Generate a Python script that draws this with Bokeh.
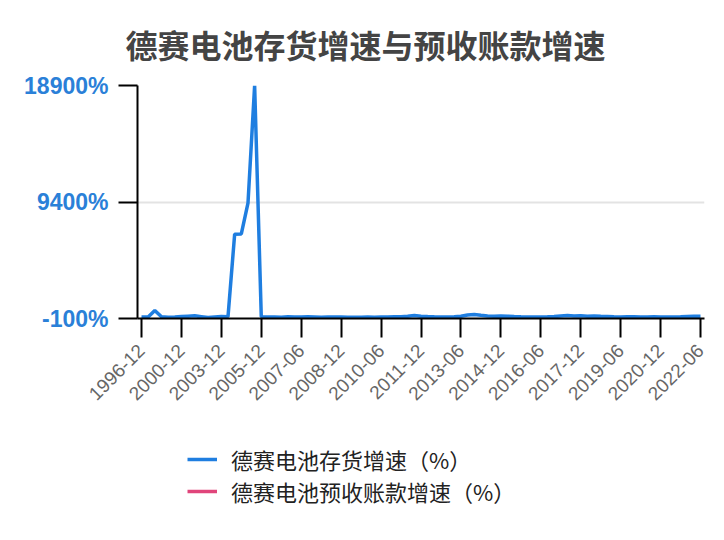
import numpy as np
from bokeh.plotting import figure
from bokeh.layouts import column
from bokeh.models import ColumnDataSource, FixedTicker, Range1d, Legend, LegendItem, Title
from bokeh.embed import file_html
from bokeh.resources import INLINE

report_dates = [
    "1996-12", "1997-06", "1997-12", "1998-12", "1999-12", "2000-06",
    "2000-12", "2001-06", "2001-12", "2002-06", "2002-12", "2003-06",
    "2003-12", "2004-03", "2004-06", "2004-09", "2004-12", "2005-06",
    "2005-12", "2006-03", "2006-06", "2006-09", "2006-12", "2007-03",
    "2007-06", "2007-09", "2007-12", "2008-03", "2008-06", "2008-09",
    "2008-12", "2009-03", "2009-06", "2009-09", "2009-12", "2010-03",
    "2010-06", "2010-09", "2010-12", "2011-03", "2011-06", "2011-09",
    "2011-12", "2012-03", "2012-06", "2012-09", "2012-12", "2013-03",
    "2013-06", "2013-09", "2013-12", "2014-03", "2014-06", "2014-09",
    "2014-12", "2015-03", "2015-06", "2015-09", "2015-12", "2016-03",
    "2016-06", "2016-09", "2016-12", "2017-03", "2017-06", "2017-09",
    "2017-12", "2018-03", "2018-06", "2018-09", "2018-12", "2019-03",
    "2019-06", "2019-09", "2019-12", "2020-03", "2020-06", "2020-09",
    "2020-12", "2021-03", "2021-06", "2021-09", "2021-12", "2022-03",
    "2022-06",
]

# 德赛电池存货增速 (%)
inventory_growth = [
    30, 20, 560, 40, 10, 30, 60, 90, 120, 50, -20, 30,
    70, 50, 6780, 6800, 9300, 18900, 40, 30, 20, 10, 40, 30,
    20, 40, 30, 10, 20, 30, 20, 10, 0, 10, 20, 10,
    30, 20, 40, 50, 90, 150, 90, 60, 40, 30, 20, 40,
    90, 190, 230, 160, 100, 80, 110, 90, 60, 40, 30, 20,
    30, 40, 60, 110, 150, 100, 130, 90, 110, 80, 60, 40,
    30, 50, 40, 30, 20, 40, 30, 20, 30, 40, 60, 80,
    90,
]

# 德赛电池预收账款增速 (%) -- no values shown in the chart
advance_growth = [np.nan] * len(report_dates)

x_tick_labels = [
    "1996-12", "2000-12", "2003-12", "2005-12", "2007-06", "2008-12",
    "2010-06", "2011-12", "2013-06", "2014-12", "2016-06", "2017-12",
    "2019-06", "2020-12", "2022-06",
]
y_ticks = [-100, 9400, 18900]
series_names = ["德赛电池存货增速（%）", "德赛电池预收账款增速（%）"]
series_colors = ["#1f7ee0", "#e0457b"]

idx = list(range(len(report_dates)))
source = ColumnDataSource(dict(idx=idx, date=report_dates,
                               inventory=inventory_growth,
                               advance=advance_growth))

p = figure(frame_width=567, frame_height=233,
           output_backend="svg",
           toolbar_location=None,
           x_range=Range1d(-0.6, len(report_dates) - 0.4),
           y_range=Range1d(y_ticks[0], y_ticks[-1]),
           min_border_left=137, min_border_right=12,
           min_border_top=85, min_border_bottom=100)
p.outline_line_color = None

title = Title(text="德赛电池存货增速与预收账款增速", align="left", offset=-12,
              standoff=37, text_font="Noto Sans CJK SC", text_font_size="32px",
              text_font_style="bold", text_color="#444444")
p.add_layout(title, "above")

p.line("idx", "inventory", source=source, line_color=series_colors[0], line_width=3.5)
p.line("idx", "advance", source=source, line_color=series_colors[1], line_width=3.5)

tick_pos = [report_dates.index(d) for d in x_tick_labels]
p.xaxis.ticker = FixedTicker(ticks=tick_pos)
p.xaxis.major_label_overrides = {i: d for i, d in zip(tick_pos, x_tick_labels)}
p.xaxis.major_label_orientation = np.pi / 4
p.xaxis.major_label_text_font = "Liberation Sans"
p.xaxis.major_label_text_font_size = "19px"
p.xaxis.major_label_text_color = "#666666"

p.yaxis.ticker = FixedTicker(ticks=y_ticks)
p.yaxis.major_label_overrides = {v: f"{v}%" for v in y_ticks}
p.yaxis.major_label_text_font = "Liberation Sans"
p.yaxis.major_label_text_font_size = "23px"
p.yaxis.major_label_text_font_style = "bold"
p.yaxis.major_label_text_color = "#2a80d8"

for ax in (p.xaxis, p.yaxis):
    ax.axis_line_color = "black"
    ax.axis_line_width = 2
    ax.major_tick_line_color = "black"
    ax.major_tick_line_width = 2
    ax.major_tick_out = 19
    ax.major_tick_in = 0
    ax.minor_tick_line_color = None
    ax.major_label_standoff = 10

p.xgrid.grid_line_color = None
p.ygrid.grid_line_color = "#e3e3e3"
p.ygrid.grid_line_width = 2

# legend strip under the chart: same series, ranges kept off the data
leg = figure(width=716, height=112, output_backend="svg", toolbar_location=None,
             x_range=Range1d(-10, -9), y_range=Range1d(0, 1),
             x_axis_location=None, y_axis_location=None,
             min_border_left=0, min_border_right=0,
             min_border_top=0, min_border_bottom=0)
leg.outline_line_color = None
leg.xgrid.grid_line_color = None
leg.ygrid.grid_line_color = None
l1 = leg.line("idx", "inventory", source=source, line_color=series_colors[0], line_width=3.5)
l2 = leg.line("idx", "advance", source=source, line_color=series_colors[1], line_width=3.5)

# column() lines up the frames, so x is measured from the chart's left axis
legend = Legend(items=[LegendItem(label=series_names[0], renderers=[l1]),
                       LegendItem(label=series_names[1], renderers=[l2])],
                location=(50, 23))
legend.border_line_color = None
legend.background_fill_alpha = 0
legend.label_text_font = "Noto Sans CJK SC"
legend.label_text_font_size = "22px"
legend.label_text_color = "#222222"
legend.glyph_width = 30
legend.label_standoff = 14
legend.spacing = -3
legend.padding = 0
legend.margin = 0
leg.add_layout(legend, "center")

open("out.html", "w").write(file_html(column(p, leg), INLINE))
